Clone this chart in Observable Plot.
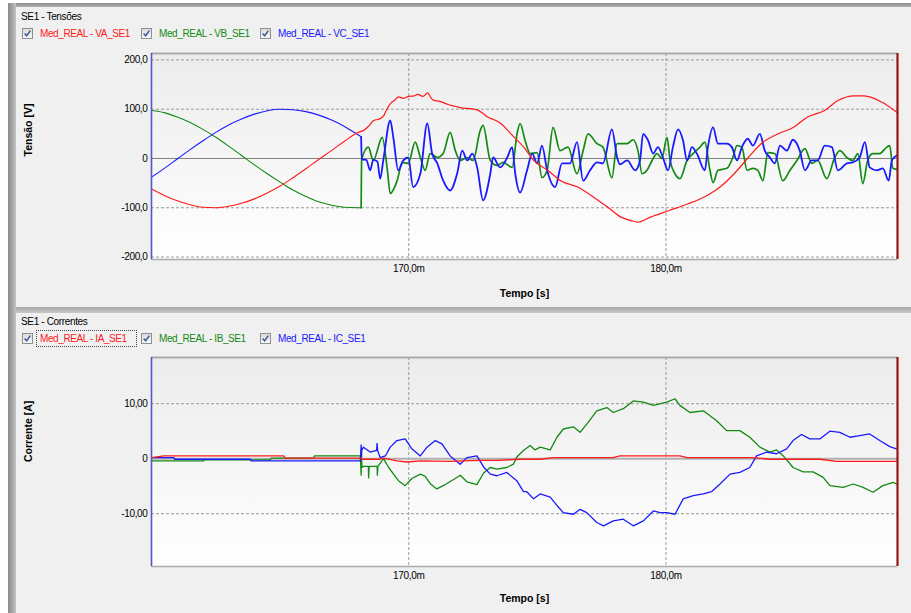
<!DOCTYPE html>
<html><head><meta charset="utf-8">
<script src="https://cdn.jsdelivr.net/npm/d3@7"></script>
<script src="https://cdn.jsdelivr.net/npm/@observablehq/plot@0.6"></script>
<style>
html,body{margin:0;padding:0;background:#fff;}
#win{position:relative;width:911px;height:613px;overflow:hidden;background:#f0f0f0;font-family:"Liberation Sans",Arial,sans-serif;font-size:10px;color:#000;}
.box{position:absolute;}
.title{position:absolute;left:21px;font-size:10px;letter-spacing:-0.35px;line-height:13px;white-space:nowrap;}
.cb{position:absolute;width:11px;height:11px;box-sizing:border-box;border:1px solid #8e8f8f;background:linear-gradient(#dcdcdc,#f8f8f8);}
.cb svg{position:absolute;left:0;top:0;}
.lab{position:absolute;line-height:13px;white-space:nowrap;font-size:10px;letter-spacing:-0.4px;}
.focus{position:absolute;border:1px dotted #444;box-sizing:border-box;}
.chart{position:absolute;left:0;}
.chart svg g[aria-label="x-axis tick label"] text,.chart svg g[aria-label="y-axis tick label"] text{letter-spacing:-0.35px;}
</style></head>
<body>
<div id="win">
  <div class="box" style="left:0;top:0;width:911px;height:3px;background:#fff"></div>
  <div class="box" style="left:0;top:0;width:8px;height:613px;background:#fff"></div>
  <div class="box" style="left:8px;top:3px;width:903px;height:4px;background:linear-gradient(#8a8a8a,#b0b0b0)"></div>
  <div class="box" style="left:8px;top:3px;width:8px;height:610px;background:linear-gradient(90deg,#8a8a8a,#a8a8a8 60%,#c4c4c4)"></div>
  <div class="box" style="left:16px;top:307px;width:895px;height:6px;background:linear-gradient(#a8a8a8,#c8c8c8)"></div>
  <div id="p1"></div>
  <div id="p2"></div>
</div>
<script>
// ---------- axis / tick values ----------
const xDomain = [160, 189];           // time, ms
const xTicks = [170, 180];
const vDomain = [-205, 213];          // voltage, V
const vTicks = [-200, -100, 0, 100, 200];
const iDomain = [-19.6, 18.4];        // current, A
const iTicks = [-10, 0, 10];

// ---------- legends ----------
const voltNames = ["Med_REAL - VA_SE1", "Med_REAL - VB_SE1", "Med_REAL - VC_SE1"];
const currNames = ["Med_REAL - IA_SE1", "Med_REAL - IB_SE1", "Med_REAL - IC_SE1"];
const phaseColors = ["#ff1a1a", "#138a13", "#1a1aff"];

// ---------- voltage data (ms, V) ----------
const preTime = [160,160.5,161,161.5,162,162.5,163,163.5,164,164.5,165,165.5,166,166.5,167,167.5,168,168.15];
const vaPre = [-62,-75,-86,-94,-99,-100,-97,-91,-82,-70,-56,-39,-21,-2,16,35,52,55];
const vbPre = [98,93,84,73,59,43,25,6,-13,-31,-48,-64,-77,-88,-95,-99,-100,-100];
const vcPre = [-38,-20,-1,18,36,53,68,80,90,97,100,99,95,88,78,65,49,44];

const vaPostTime = [168.25,168.45,168.64,168.85,169.03,169.15,169.3,169.45,169.6,169.8,170,170.2,170.35,170.55,170.74,170.85,170.97,171.2,171.5,171.8,172.14,172.4,172.68,172.85,173.07,173.3,173.58,173.97,174.47,174.86,175.4,175.9,176.57,177.2,177.74,178.25,178.64,178.9,179.4,180.1,180.86,181.6,182.1,182.65,183.2,183.7,184.36,184.98,185.5,186.15,186.7,187.3,187.7,188.4,188.97];
const vaPost = [57,66,77,80,87,100,112,118,125,122,126,127,130,126,133,124,118,116,110,106,102,101,98,93,84,79,71,50,23,-4,-24,-45,-58,-79,-99,-119,-126,-129,-119,-106,-92,-75,-58,-31,2,30,50,64,84,97,118,127,127,114,94];

const vbPostTime = [168.17,168.43,168.62,168.97,169.17,169.28,169.55,169.75,169.98,170.25,170.45,170.64,170.83,171.11,171.34,171.61,171.81,172,172.27,172.5,172.78,172.89,173.17,173.44,173.67,174.02,174.21,174.33,174.52,174.72,174.99,175.18,175.38,175.61,175.88,176.19,176.54,176.78,176.97,177.32,177.55,177.9,178.1,178.33,178.49,178.72,178.91,179.07,179.26,179.46,179.65,179.84,180.04,180.16,180.35,180.54,180.82,181.05,181.32,181.51,181.71,181.83,182.02,182.37,182.6,182.76,182.95,183.15,183.38,183.57,183.77,183.96,184.23,184.54,184.82,185.09,185.4,185.67,185.9,186.25,186.56,186.76,187.03,187.26,187.46,187.65,187.84,188.04,188.31,188.58,188.7,188.82,188.97];
const vbPost = [-2,23,-4,43,-24,-71,-45,-8,-10,33,2,-24,10,2,10,53,16,-4,2,-4,57,67,-4,-14,-8,-18,50,71,37,10,12,-39,-24,63,16,23,-31,16,50,30,23,-39,30,30,30,38,16,-31,-24,-4,10,0,43,-4,-31,-41,-4,10,23,33,-24,-49,-24,-20,2,26,23,-24,-20,-24,-45,12,10,-45,-24,-4,20,-10,-4,-41,2,16,2,-4,10,-51,-4,10,10,23,26,-20,-22];

const vcPostTime = [168.17,168.35,168.5,168.62,168.78,168.89,169.01,169.28,169.4,169.59,169.79,169.98,170.17,170.45,170.72,170.91,171.11,171.34,171.61,171.88,172.08,172.27,172.47,172.66,172.89,173.17,173.28,173.55,173.83,174.02,174.14,174.33,174.6,174.8,174.99,175.18,175.38,175.69,175.96,176.27,176.54,176.78,177.05,177.32,177.55,177.9,178.1,178.21,178.49,178.8,178.99,179.11,179.3,179.5,179.69,179.88,180.08,180.27,180.47,180.66,180.82,181.01,181.2,181.51,181.63,181.83,182.02,182.37,182.56,182.76,182.95,183.18,183.38,183.65,183.84,184.04,184.23,184.43,184.7,184.93,185.2,185.4,185.67,185.9,186.17,186.45,186.68,187.03,187.26,187.53,187.73,187.92,188.19,188.43,188.66,188.78,188.97];
const vcPost = [-2,-3,-24,-3,-6,-41,-4,77,43,-24,-4,2,-58,-31,71,10,-10,-45,-65,-31,16,-4,10,-18,-85,-31,2,-18,2,23,-31,-69,-24,10,-10,26,-24,-58,-10,-10,33,-45,-24,-8,-10,59,2,-12,-4,-24,-4,50,37,10,23,2,-24,23,59,37,-4,23,10,-24,23,63,30,30,23,-4,23,40,26,50,16,2,-10,26,16,38,16,-24,-4,-4,26,23,-24,-10,-8,2,33,-18,-24,-20,-45,-4,6];

// ---------- current data (ms, A) ----------
const iaTime = [160,160.48,165.14,165.2,168.12,168.18,168.89,169.02,169.54,169.93,170.45,171.61,172.13,172.78,173.43,174.33,175.11,175.61,177.95,178.21,180.54,180.82,183.38,184.04,185.98,186.64,188.96];
const iaVal = [0.2,0.5,0.5,0.1,0.1,-0.1,-0.1,0.1,-0.4,-0.6,-0.4,-0.5,-0.4,-0.3,-0.3,-0.1,-0.1,0.2,0.2,0.5,0.5,0.2,0.2,-0.1,-0.1,-0.5,-0.5];

const ibTime = [160,162.03,162.05,164.62,164.65,166.3,166.33,168.12,168.15,168.16,168.18,168.24,168.43,168.44,168.46,168.77,168.78,168.8,169.02,169.22,169.41,169.6,169.86,170.12,170.45,170.64,170.83,171.09,171.42,171.81,172,172.26,172.65,172.91,173.17,173.43,173.81,174.07,174.2,174.46,174.72,174.91,175.11,175.5,175.76,176.01,176.4,176.66,176.92,177.31,177.7,177.95,178.34,178.73,179.12,179.51,180.03,180.35,180.54,180.93,181.45,181.97,182.36,182.87,183.26,183.65,184.04,184.3,184.56,184.94,185.33,185.72,186.11,186.37,186.89,187.28,187.66,188.05,188.43,188.83,188.96];
const ibVal = [-0.4,-0.4,-0.2,-0.2,0.1,0.1,0.5,0.5,-3.0,1.8,-1.6,-1.4,-1.4,-3.5,-1.4,-1.4,-3.0,-1.4,0,-1.6,-2.8,-4.0,-4.9,-3.6,-2.8,-3.2,-4.5,-5.5,-4.7,-3.6,-3.0,-4.2,-4.7,-2.6,-1.6,-1.9,-1.6,-1.0,0.3,1.5,2.4,1.6,2.1,1.6,3.9,5.4,5.8,4.8,6.3,8.7,9.3,8.4,9.1,10.5,10.3,9.7,10.3,10.9,9.7,8.4,8.7,6.9,5.1,5.1,3.9,2.1,1.2,1.6,0.5,-1.6,-2.4,-2.4,-3.4,-4.9,-5.2,-4.6,-5.2,-6.1,-4.9,-4.3,-4.6];

const icTime = [160,160.87,160.9,163.84,163.87,168.12,168.15,168.16,168.17,168.24,168.5,168.75,168.77,168.79,168.89,169.09,169.28,169.54,169.86,170.12,170.45,170.71,171.03,171.29,171.61,172,172.26,172.65,172.91,173.17,173.43,173.81,174.2,174.46,174.59,174.85,175.11,175.5,175.76,176.01,176.4,176.66,176.92,177.31,177.57,177.95,178.34,178.73,179.12,179.51,179.77,180.03,180.35,180.67,181.06,181.45,181.77,182.1,182.49,182.87,183.26,183.52,183.91,184.3,184.69,184.94,185.27,185.59,185.98,186.37,186.76,187.15,187.53,187.92,188.31,188.7,188.96];
const icVal = [0.2,0.2,-0.1,-0.1,-0.4,-0.4,2.5,0.5,1.5,2.1,1.2,1.5,2.8,1.5,0.2,0.5,2.1,3.3,3.6,1.8,0.5,2.1,3.3,2.7,0.5,-1.0,0.2,0.5,-1.5,-2.8,-3.1,-2.5,-4.0,-6.0,-6.0,-7.3,-6.4,-7.0,-8.5,-9.8,-10.1,-9.2,-9.8,-11.6,-12.2,-11.3,-11.0,-12.2,-11.3,-9.5,-9.8,-9.8,-10.1,-7.3,-6.7,-6.4,-6.0,-4.6,-2.8,-2.5,-1.6,0.5,1.2,0.9,1.8,3.3,4.4,3.6,3.6,5.0,4.8,3.9,4.2,4.5,3.3,2.2,1.8];

// ---------- helpers ----------
const rows = (T, V) => T.map((t, i) => ({t, v: V[i]}));
const comma = (d, n) => d === 0 ? "0" : d.toFixed(n).replace(".", ",");
const lastOf = a => a[a.length - 1];

function header(title, names, top, focusFirst) {
  const win = document.getElementById("win");
  const t = document.createElement("div");
  t.className = "title"; t.style.top = top + "px"; t.textContent = title;
  win.appendChild(t);
  const cbX = [22, 141, 260], labX = [40, 159, 278];
  names.forEach((n, i) => {
    const cb = document.createElement("div");
    cb.className = "cb"; cb.style.left = cbX[i] + "px"; cb.style.top = (top + 18) + "px";
    cb.innerHTML = '<svg width="9" height="9"><path d="M1.6 4.6 L3.6 6.8 L7.4 1.6" stroke="#3b5a9a" stroke-width="1.5" fill="none"/></svg>';
    win.appendChild(cb);
    const lb = document.createElement("div");
    lb.className = "lab"; lb.style.left = labX[i] + "px"; lb.style.top = (top + 17) + "px";
    lb.style.color = phaseColors[i]; lb.textContent = n;
    win.appendChild(lb);
  });
  if (focusFirst) {
    const f = document.createElement("div");
    f.className = "focus";
    f.style.left = "36px"; f.style.top = (top + 15) + "px"; f.style.width = "101px"; f.style.height = "17px";
    win.appendChild(f);
  }
}

function chart({el, top, height, marginBottom, yDomain, yTicks, yFmt, yLabel, series, gradId, zeroStroke, zeroWidth, xLabelDy, curve}) {
  const svg = Plot.plot({
    width: 911, height,
    marginLeft: 151, marginRight: 14, marginTop: 8, marginBottom,
    style: {background: "transparent", fontFamily: "Liberation Sans, Arial, sans-serif", fontSize: "10px", color: "#000", overflow: "visible"},
    x: {domain: xDomain},
    y: {domain: yDomain},
    marks: [
      Plot.frame({fill: `url(#${gradId})`, stroke: "none"}),
      Plot.gridY(yTicks.filter(d => d !== 0), {stroke: "#9a9a9a", strokeOpacity: 1, strokeDasharray: "3,2"}),
      Plot.gridX(xTicks, {stroke: "#9a9a9a", strokeOpacity: 1, strokeDasharray: "3,2"}),
      Plot.ruleY([0], {stroke: zeroStroke, strokeWidth: zeroWidth}),
      Plot.ruleY([yDomain[1]], {stroke: "#aaaaaa", strokeWidth: 2}),
      Plot.ruleY([yDomain[0]], {stroke: "#aaaaaa", strokeWidth: 1.5}),
      ...series.map(s => Plot.line(rows(s.T, s.V), {x: "t", y: "v", stroke: s.color, strokeWidth: s.w, curve, strokeLinejoin: "round"})),
      Plot.ruleX([xDomain[0]], {stroke: "#5656cc", strokeWidth: 1.6}),
      Plot.ruleX([xDomain[1]], {stroke: "#9a1414", strokeWidth: 2.2}),
      Plot.axisX(xTicks, {tickSize: 0, tickPadding: 5, tickFormat: d => comma(d, 1) + "m", label: null, fill: "#000"}),
      Plot.axisY(yTicks, {tickSize: 0, tickPadding: 4, tickFormat: yFmt, label: null, fill: "#000"}),
      Plot.text(["Tempo [s]"], {frameAnchor: "bottom", dy: xLabelDy, fontWeight: "bold", fontSize: 10.5, fill: "#000"}),
      Plot.text([yLabel], {frameAnchor: "left", dx: -123, rotate: -90, fontWeight: "bold", fontSize: 10.5, fill: "#000"})
    ]
  });
  const ns = "http://www.w3.org/2000/svg";
  const defs = document.createElementNS(ns, "defs");
  defs.innerHTML = `<linearGradient id="${gradId}" x1="0" y1="0" x2="0" y2="1"><stop offset="0" stop-color="#ececec"/><stop offset="1" stop-color="#ffffff"/></linearGradient>`;
  svg.insertBefore(defs, svg.firstChild);
  const holder = document.getElementById(el);
  holder.className = "chart";
  holder.style.top = top + "px";
  holder.appendChild(svg);
}

header("SE1 - Tensões", voltNames, 10, false);
header("SE1 - Correntes", currNames, 315, true);

// pre-fault sine segments thin, post-fault (noisy) segments thicker
chart({
  el: "p1", top: 45, height: 262, marginBottom: 48,
  yDomain: vDomain, yTicks: vTicks, yFmt: d => comma(d, 1), yLabel: "Tensão [V]",
  gradId: "gV", zeroStroke: "#808080", zeroWidth: 1, xLabelDy: 37, curve: "monotone-x",
  series: [
    {T: preTime, V: vbPre, color: phaseColors[1], w: 1.1},
    {T: preTime, V: vcPre, color: phaseColors[2], w: 1.1},
    {T: preTime, V: vaPre, color: phaseColors[0], w: 1.1},
    {T: [lastOf(preTime), ...vbPostTime], V: [lastOf(vbPre), ...vbPost], color: phaseColors[1], w: 1.7},
    {T: [lastOf(preTime), ...vcPostTime], V: [lastOf(vcPre), ...vcPost], color: phaseColors[2], w: 1.8},
    {T: [lastOf(preTime), ...vaPostTime], V: [lastOf(vaPre), ...vaPost], color: phaseColors[0], w: 1.2}
  ]
});

chart({
  el: "p2", top: 349, height: 264, marginBottom: 47,
  yDomain: iDomain, yTicks: iTicks, yFmt: d => comma(d, 2), yLabel: "Corrente [A]",
  gradId: "gI", zeroStroke: "#b0b0b0", zeroWidth: 2, xLabelDy: 35, curve: "linear",
  series: [
    {T: ibTime, V: ibVal, color: phaseColors[1], w: 1.3},
    {T: icTime, V: icVal, color: phaseColors[2], w: 1.3},
    {T: iaTime, V: iaVal, color: phaseColors[0], w: 1.3}
  ]
});
</script>
</body></html>
